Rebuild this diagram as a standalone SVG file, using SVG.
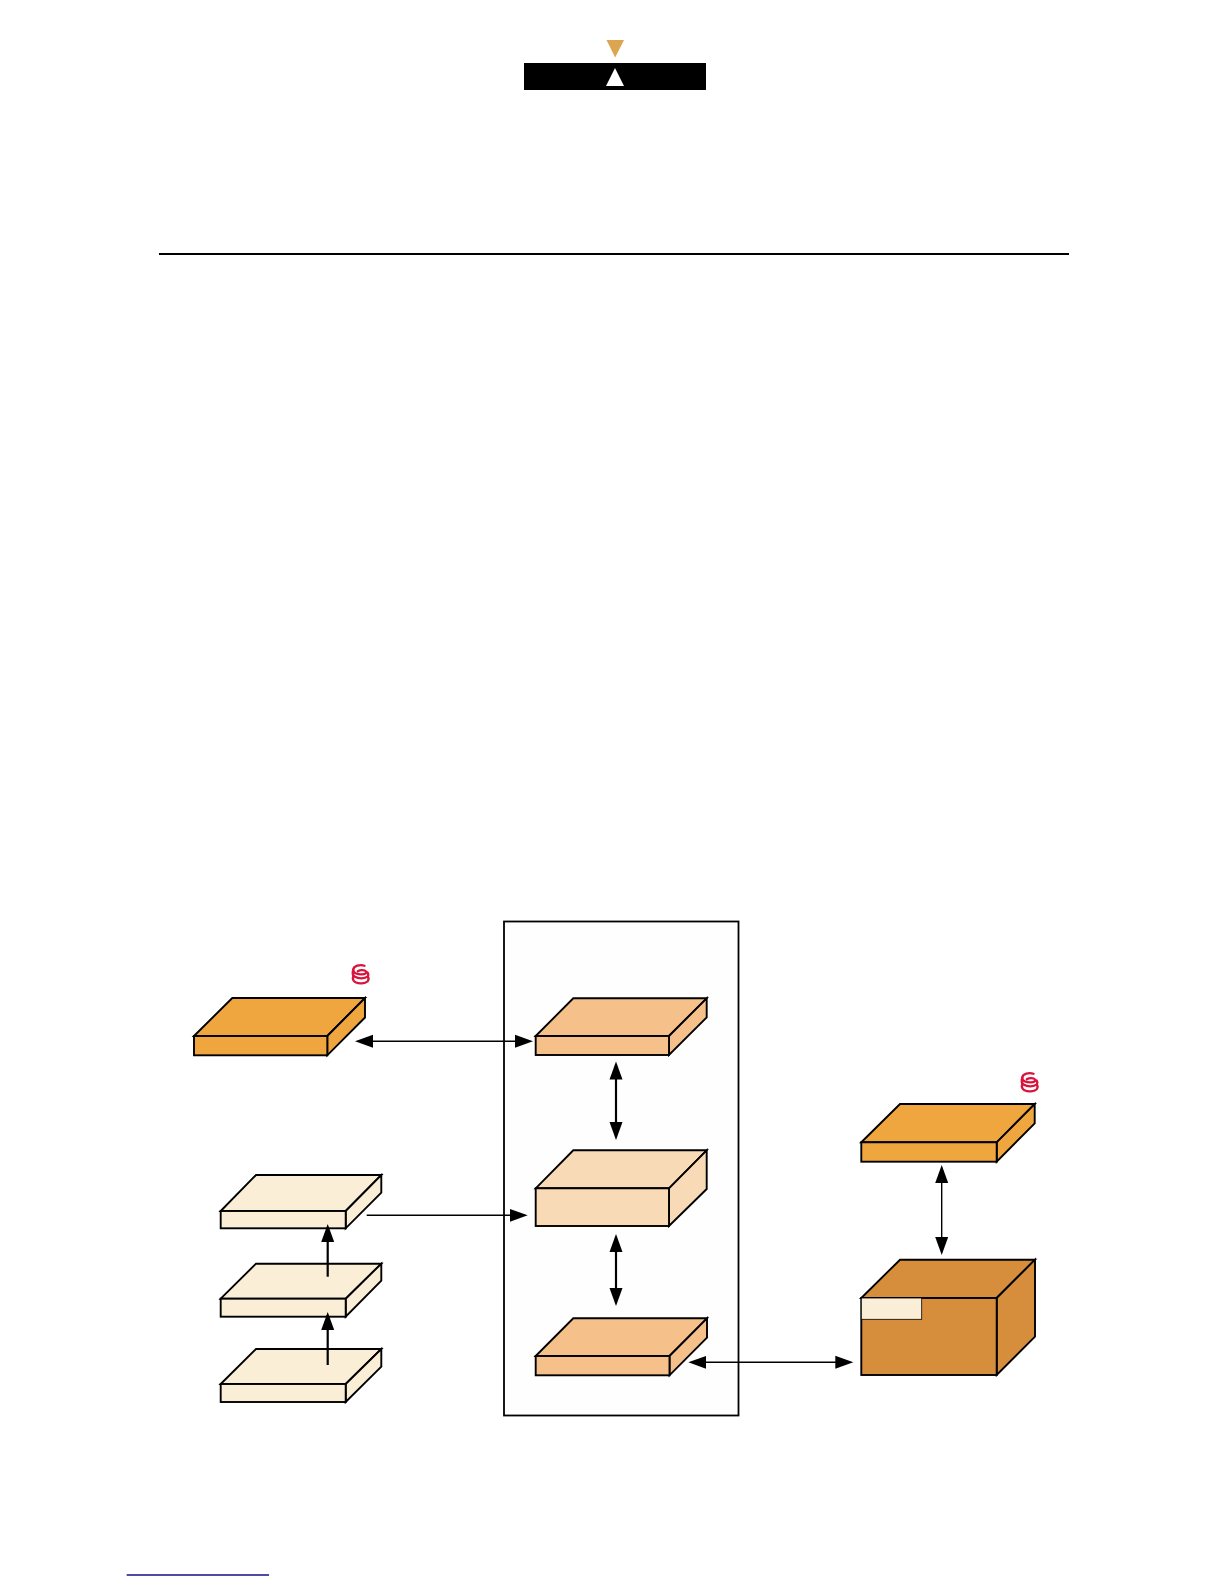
<svg xmlns="http://www.w3.org/2000/svg" width="1224" height="1584" viewBox="0 0 1224 1584">
<style>
.face{stroke:#000;stroke-width:1.9;stroke-linejoin:miter}
.c1{fill:#f0a63f}.c2{fill:#f5c08a}.c3{fill:#f8dbb6}.c4{fill:#fbeed6}.c5{fill:#d68e3c}
.conn{fill:none;stroke:#000;marker-start:url(#a);marker-end:url(#a)}
.one{fill:none;stroke:#000;marker-end:url(#a)}
.w1{stroke-width:1.4}.w2{stroke-width:2.2}
.swirl{fill:none;stroke:#d9143c;stroke-width:2.3;stroke-linecap:round}
</style>
<defs>
<marker id="a" markerUnits="userSpaceOnUse" markerWidth="20" markerHeight="14" refX="15" refY="7" orient="auto-start-reverse" viewBox="0 0 20 14">
<path d="M0 0.500 L18 7 L0 13.500 Z" fill="#000"/>
</marker>
<g id="sw">
<path class="swirl" d="M12.500 1.800 C8 0 1.500 2 1.200 5.800 C1 9.500 6 10.500 10 10.300 C13 10.200 15 9 14 7.500 C13 5.800 8 5.800 5.800 7.300"/>
<path class="swirl" d="M1.200 5.800 C0.300 8.500 0.800 11.500 3 12.800 C6.500 15 13 14.800 15.500 12.500 C16.500 11.500 16.500 10 15.500 8.500"/>
<path class="swirl" d="M1.500 11.500 C0.500 14 1 16.800 3.500 18.300 C7 20 13 19.800 15.500 17.500 C16.800 16 16.800 14 15.800 12.500"/>
</g>
</defs>
<rect width="1224" height="1584" fill="#fff"/>
<g id="header">
<rect x="524" y="63" width="182" height="27" fill="#000"/>
<polygon points="606.500,40 624,40 615.200,57.500" fill="#dca550"/>
<polygon points="606,86 624,86 615,68" fill="#fff"/>
</g>
<line id="rule" x1="159" y1="254" x2="1069" y2="254" stroke="#000" stroke-width="2"/>
<rect id="frame" x="504" y="921.500" width="234.500" height="494" fill="#fefefe" stroke="#000" stroke-width="1.800"/>

<g id="box-left-top">
<polygon class="face c1" points="194,1036 232.300,998 365,998 327.300,1036"/>
<polygon class="face c1" points="327.300,1036 365,998 365,1017.500 327.300,1055.300"/>
<rect class="face c1" x="194" y="1036" width="133.300" height="19.300"/>
<use href="#sw" x="352" y="964"/>
</g>
<g id="box-mid-1">
<polygon class="face c2" points="535.700,1036 573.300,998.300 706.700,998.300 669,1036"/>
<polygon class="face c2" points="669,1036 706.700,998.300 706.700,1017.300 669,1055"/>
<rect class="face c2" x="535.700" y="1036" width="133.300" height="19"/>
</g>
<g id="box-mid-2">
<polygon class="face c3" points="535.700,1188.300 573.300,1150.300 706.700,1150.300 669,1188.300"/>
<polygon class="face c3" points="669,1188.300 706.700,1150.300 706.700,1189 669,1226"/>
<rect class="face c3" x="535.700" y="1188.300" width="133.300" height="37.700"/>
</g>
<g id="box-mid-3">
<polygon class="face c2" points="535.700,1356 573.300,1318.300 707,1318.300 669.500,1356"/>
<polygon class="face c2" points="669.500,1356 707,1318.300 707,1337.700 669.500,1375.300"/>
<rect class="face c2" x="535.700" y="1356" width="133.800" height="19.300"/>
</g>
<g id="box-a">
<polygon class="face c4" points="220.700,1211 256,1175 381.300,1175 345.700,1211"/>
<polygon class="face c4" points="345.700,1211 381.300,1175 381.300,1192.700 345.700,1228.300"/>
<rect class="face c4" x="220.700" y="1211" width="125" height="17.300"/>
</g>
<g id="box-b">
<polygon class="face c4" points="220.700,1298.700 256,1263.700 381.300,1263.700 345.700,1298.700"/>
<polygon class="face c4" points="345.700,1298.700 381.300,1263.700 381.300,1280.700 345.700,1316.700"/>
<rect class="face c4" x="220.700" y="1298.700" width="125" height="18"/>
</g>
<g id="box-c">
<polygon class="face c4" points="220.700,1384 256,1349 381.300,1349 345.700,1384"/>
<polygon class="face c4" points="345.700,1384 381.300,1349 381.300,1366.700 345.700,1402"/>
<rect class="face c4" x="220.700" y="1384" width="125" height="18"/>
</g>
<g id="box-right-top">
<polygon class="face c1" points="861.300,1142.300 900,1104 1034.700,1104 996.700,1142.300"/>
<polygon class="face c1" points="996.700,1142.300 1034.700,1104 1034.700,1123.300 996.700,1161.700"/>
<rect class="face c1" x="861.300" y="1142.300" width="135.400" height="19.400"/>
<use href="#sw" x="1021" y="1072"/>
</g>
<g id="box-right-big">
<polygon class="face c5" points="861.300,1298 900,1259.700 1035,1259.700 996.700,1298"/>
<polygon class="face c5" points="996.700,1298 1035,1259.700 1035,1336.700 996.700,1375"/>
<rect class="face c5" x="861.300" y="1298" width="135.400" height="77"/>
<rect x="861.300" y="1298" width="60.400" height="21.300" fill="#fbeed6" stroke="#000" stroke-width="0.800"/>
</g>
<g id="connectors">
<line class="conn w1" x1="358" y1="1041.300" x2="530" y2="1041.300"/>
<line class="conn w2" x1="616" y1="1064.500" x2="616" y2="1137"/>
<line class="conn w2" x1="616" y1="1237" x2="616" y2="1303"/>
<line class="conn w1" x1="691.300" y1="1362.300" x2="850.300" y2="1362.300"/>
<line class="conn w1" x1="941.700" y1="1168" x2="941.700" y2="1252"/>
<line class="one w1" x1="366.700" y1="1215.300" x2="524.700" y2="1215.300"/>
<line class="one w2" x1="327.700" y1="1276.700" x2="327.700" y2="1227"/>
<line class="one w2" x1="327.700" y1="1365" x2="327.700" y2="1315"/>
</g>
<line id="link" x1="126.700" y1="1575" x2="269" y2="1575" stroke="#10108a" stroke-width="1.400"/>
</svg>
